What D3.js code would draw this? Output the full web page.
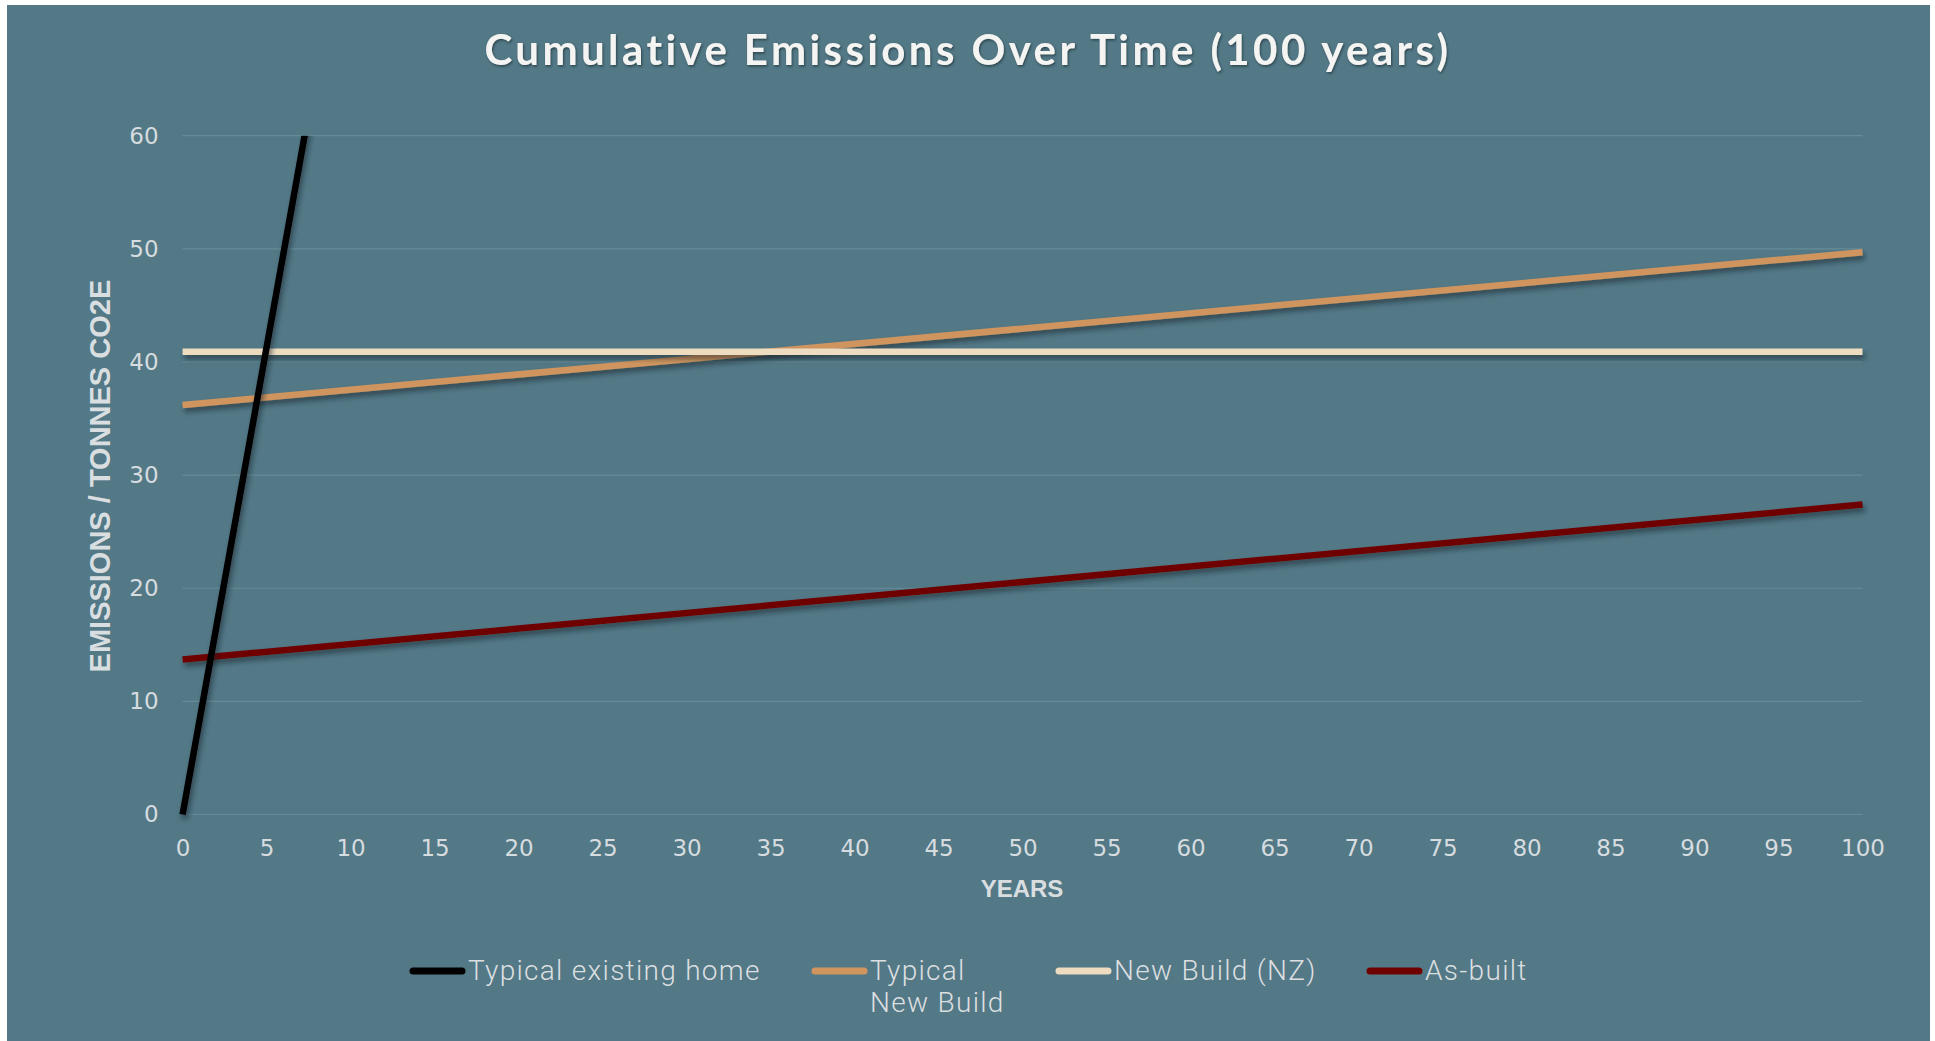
<!DOCTYPE html>
<html>
<head>
<meta charset="utf-8">
<script src="https://cdn.jsdelivr.net/npm/d3@7"></script>
<style>
  html, body { margin: 0; padding: 0; background: #ffffff; }
  svg { display: block; }
</style>
</head>
<body>
<svg id="chart" width="1935" height="1041"></svg>
<script>
// Cumulative emissions (tonnes CO2e) over a 100-year horizon
const seriesNames = ["Typical existing home", "Typical\nNew Build", "New Build (NZ)", "As-built"];
const seriesColors = ["#000000", "#d0955f", "#eedcc1", "#6e0000"];
const existingYears = [0, 5, 10];
const existingValues = [0, 41.3, 82.6];
const typicalNewYears = [0, 100];
const typicalNewValues = [36.2, 49.7];
const nzYears = [0, 100];
const nzValues = [40.9, 40.9];
const asBuiltYears = [0, 100];
const asBuiltValues = [13.7, 27.4];
const xTicks = d3.range(0, 101, 5);
const yTicks = [0, 10, 20, 30, 40, 50, 60];

const svg = d3.select("#chart");
const W = 1935, H = 1041;

// panel background
svg.append("rect").attr("x", 7).attr("y", 5).attr("width", 1923).attr("height", H - 5)
  .attr("fill", "#537886");

const defs = svg.append("defs");
// shadow defined in user space so flat (zero-height) lines still render
const shadow = defs.append("filter").attr("id", "shadow")
  .attr("filterUnits", "userSpaceOnUse")
  .attr("x", 0).attr("y", 0).attr("width", W).attr("height", H);
shadow.append("feDropShadow").attr("dx", 2).attr("dy", 4).attr("stdDeviation", 2.5)
  .attr("flood-color", "#14242b").attr("flood-opacity", 0.55);
const tshadow = defs.append("filter").attr("id", "tshadow");
tshadow.append("feDropShadow").attr("dx", 1).attr("dy", 1.5).attr("stdDeviation", 1)
  .attr("flood-color", "#1b2d35").attr("flood-opacity", 0.7);

const plot = { left: 182.6, right: 1862.5, top: 135.7, bottom: 814.5 };
const x = d3.scaleLinear().domain([0, 100]).range([plot.left, plot.right]);
const y = d3.scaleLinear().domain([0, 60]).range([plot.bottom, plot.top]);

defs.append("clipPath").attr("id", "plotclip").append("rect")
  .attr("x", plot.left - 10).attr("y", plot.top)
  .attr("width", plot.right - plot.left + 20).attr("height", plot.bottom - plot.top + 10);

// title
svg.append("text")
  .attr("x", 968).attr("y", 65)
  .attr("text-anchor", "middle")
  .attr("font-family", "Lato, 'Open Sans', sans-serif")
  .attr("font-weight", 700)
  .attr("font-size", 42)
  .attr("letter-spacing", 3.4)
  .attr("fill", "#f4f4f2")
  .attr("filter", "url(#tshadow)")
  .text("Cumulative Emissions Over Time (100 years)");

// gridlines
const grid = svg.append("g");
grid.selectAll("line").data(yTicks).join("line")
  .attr("x1", plot.left).attr("x2", plot.right)
  .attr("y1", d => y(d)).attr("y2", d => y(d))
  .attr("stroke", "#668b99").attr("stroke-width", 1.2);

// y axis
const yAxis = svg.append("g").attr("transform", `translate(${plot.left},0)`)
  .call(d3.axisLeft(y).tickValues(yTicks).tickSize(0).tickPadding(24));
yAxis.select(".domain").remove();
yAxis.selectAll("text")
  .attr("font-family", "'DejaVu Sans', sans-serif")
  .attr("font-size", 23)
  .attr("fill", "#d6dcdf");

// x axis
const xAxis = svg.append("g").attr("transform", `translate(0,${plot.bottom})`)
  .call(d3.axisBottom(x).tickValues(xTicks).tickSize(0).tickPadding(25));
xAxis.select(".domain").remove();
xAxis.selectAll("text")
  .attr("font-family", "'DejaVu Sans', sans-serif")
  .attr("font-size", 23)
  .attr("fill", "#d6dcdf");

// axis titles
svg.append("text")
  .attr("transform", `translate(110,${(plot.top + plot.bottom) / 2 + 1}) rotate(-90)`)
  .attr("text-anchor", "middle")
  .attr("font-family", "'Liberation Sans Narrow', 'Liberation Sans', sans-serif")
  .attr("font-weight", 700)
  .attr("font-size", 29)
  .attr("fill", "#d9dee0")
  .text("EMISSIONS / TONNES CO2E");

svg.append("text")
  .attr("x", 1022).attr("y", 897)
  .attr("text-anchor", "middle")
  .attr("font-family", "'Liberation Sans', Arial, sans-serif")
  .attr("font-weight", 700)
  .attr("font-size", 24)
  .attr("fill", "#d9dee0")
  .text("YEARS");

// series lines
const series = [
  { name: seriesNames[3], color: seriesColors[3], xs: asBuiltYears, ys: asBuiltValues },
  { name: seriesNames[1], color: seriesColors[1], xs: typicalNewYears, ys: typicalNewValues },
  { name: seriesNames[2], color: seriesColors[2], xs: nzYears, ys: nzValues },
  { name: seriesNames[0], color: seriesColors[0], xs: existingYears, ys: existingValues }
];
const line = d3.line().x(d => x(d[0])).y(d => y(d[1]));
const lines = svg.append("g").attr("clip-path", "url(#plotclip)");
series.forEach(s => {
  lines.append("path")
    .datum(s.xs.map((v, i) => [v, s.ys[i]]))
    .attr("d", line)
    .attr("fill", "none")
    .attr("stroke", s.color)
    .attr("stroke-width", 6.5)
    .attr("filter", "url(#shadow)");
});

// legend
const legendX = [410, 812, 1056, 1367];
const legendY = 971;
const legend = svg.append("g");
seriesNames.forEach((name, i) => {
  legend.append("line")
    .attr("x1", legendX[i] + 3).attr("x2", legendX[i] + 52)
    .attr("y1", legendY).attr("y2", legendY)
    .attr("stroke", seriesColors[i]).attr("stroke-width", 7)
    .attr("stroke-linecap", "round");
  const t = legend.append("text")
    .attr("x", legendX[i] + 58).attr("y", legendY + 9)
    .attr("font-family", "Roboto, 'Open Sans', sans-serif")
    .attr("font-weight", 300)
    .attr("font-size", 28)
    .attr("letter-spacing", 1.3)
    .attr("fill", "#dcdfe0");
  name.split("\n").forEach((part, j) => {
    t.append("tspan").attr("x", legendX[i] + 58).attr("dy", j === 0 ? 0 : 32).text(part);
  });
});
</script>
</body>
</html>
